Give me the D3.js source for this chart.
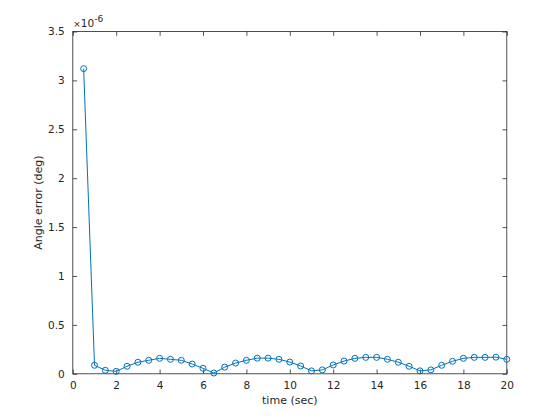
<!DOCTYPE html>
<html><head><meta charset="utf-8">
<script src="https://cdn.jsdelivr.net/npm/d3@7"></script>
<style>body{margin:0;background:#fff}svg{display:block}text{font-family:"DejaVu Sans",sans-serif;fill:#262626}</style>
</head><body>
<script>
const timeSec = [0.5,1,1.5,2,2.5,3,3.5,4,4.5,5,5.5,6,6.5,7,7.5,8,8.5,9,9.5,10,10.5,11,11.5,12,12.5,13,13.5,14,14.5,15,15.5,16,16.5,17,17.5,18,18.5,19,19.5,20];
const angleErr = [3.12,0.087,0.036,0.025,0.077,0.118,0.138,0.158,0.148,0.138,0.10,0.056,0.008,0.068,0.11,0.138,0.16,0.16,0.148,0.12,0.08,0.03,0.04,0.09,0.13,0.158,0.168,0.168,0.148,0.118,0.077,0.03,0.04,0.087,0.128,0.158,0.168,0.168,0.17,0.148].map(v=>v*1e-6);
const xTicks = [0,2,4,6,8,10,12,14,16,18,20];
const yTicks = [0,0.5,1,1.5,2,2.5,3,3.5];
const xLabel = "time (sec)", yLabel = "Angle error (deg)";

const W=560,H=420;
const L=72.8,R=506.8,T=31.5,B=373.8;
const svg=d3.select("body").append("svg").attr("width",W).attr("height",H);
const x=d3.scaleLinear().domain([0,20]).range([L,R]);
const y=d3.scaleLinear().domain([0,3.5e-6]).range([B,T]);
const ys=d3.scaleLinear().domain([0,3.5]).range([B,T]);
const col="#262626", tl=4.3;

const g=svg.append("g");
g.append("rect").attr("x",L).attr("y",T).attr("width",R-L).attr("height",B-T).attr("fill","none").attr("stroke",col).attr("stroke-width",0.8);
const ax=d3.axisBottom(x).tickValues(xTicks).tickSize(-tl).tickPadding(8).tickFormat(d3.format("d"));
const gx=g.append("g").attr("transform",`translate(0,${B})`).call(ax);
const axTop=d3.axisTop(x).tickValues(xTicks).tickSize(-tl).tickFormat("");
const gxt=g.append("g").attr("transform",`translate(0,${T})`).call(axTop);
const ay=d3.axisLeft(ys).tickValues(yTicks).tickSize(-tl).tickPadding(8).tickFormat(d=>d===0?"0":String(d));
const gy=g.append("g").attr("transform",`translate(${L},0)`).call(ay);
const ayr=d3.axisRight(ys).tickValues(yTicks).tickSize(-tl).tickFormat("");
const gyr=g.append("g").attr("transform",`translate(${R},0)`).call(ayr);
[gx,gxt,gy,gyr].forEach(a=>{a.select(".domain").remove();a.selectAll("line").attr("stroke",col).attr("stroke-width",0.8);a.selectAll("text").attr("fill",col).style("font-size","10.5px").style("font-family","DejaVu Sans, sans-serif");});
gx.selectAll("text").attr("dy","0.71em");

const ex=svg.append("text").attr("x",L+0.5).attr("y",T-4.5).style("font-size","10.5px").attr("fill","#555");
ex.append("tspan").style("font-size","9px").text("×");
ex.append("tspan").text("10");
ex.append("tspan").attr("dy",-5).style("font-size","9px").text("-6");

svg.append("text").attr("x",(L+R)/2).attr("y",404).attr("text-anchor","middle").style("font-size","11px").text(xLabel);
svg.append("text").attr("transform",`translate(42,${(T+B)/2}) rotate(-90)`).attr("text-anchor","middle").style("font-size","11px").text(yLabel);

const data=timeSec.map((t,i)=>({t,v:angleErr[i]}));
svg.append("path").datum(data).attr("fill","none").attr("stroke","#0072BD").attr("stroke-width",1)
  .attr("d",d3.line().x(d=>x(d.t)).y(d=>y(d.v)));
svg.append("g").selectAll("circle").data(data).join("circle")
  .attr("cx",d=>x(d.t)).attr("cy",d=>y(d.v)).attr("r",3).attr("fill","none").attr("stroke","#0072BD").attr("stroke-width",1);
</script>
</body></html>
